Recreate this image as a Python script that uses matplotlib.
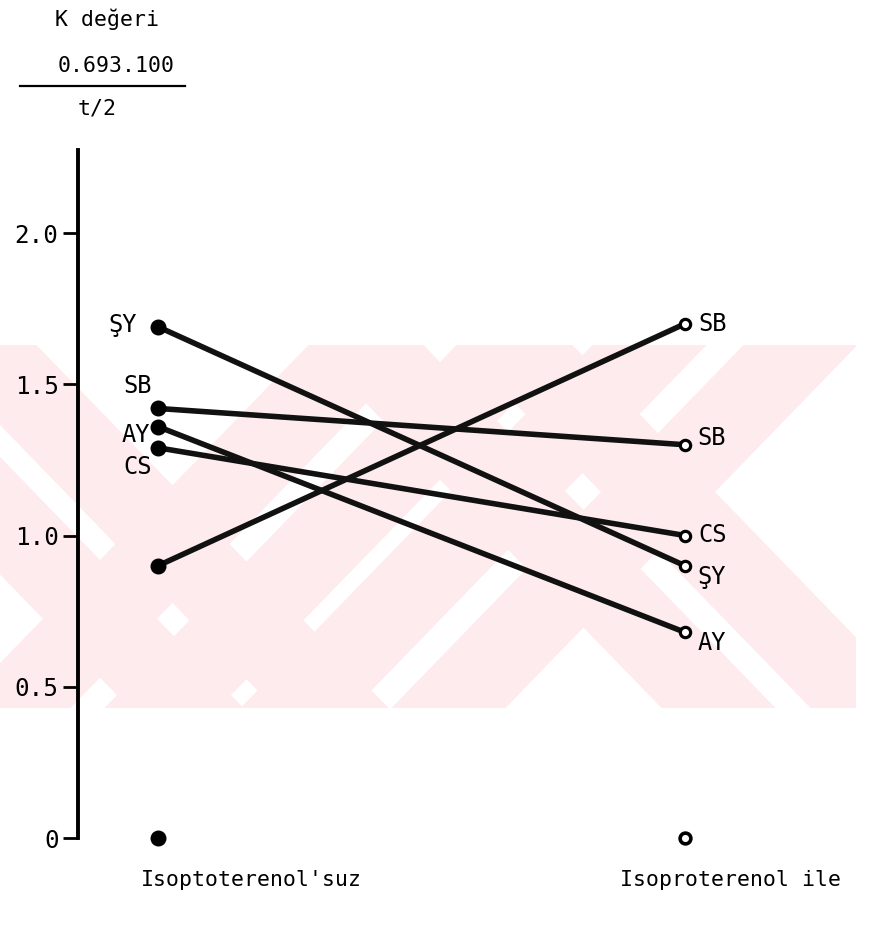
import matplotlib
matplotlib.use("Agg")
import matplotlib.pyplot as plt
from matplotlib.patches import Polygon, Rectangle

# ---------------- data ----------------
categories = ["Isoptoterenol'suz", "Isoproterenol ile"]
labels_before = ["ŞY", "SB", "AY", "CS", ""]
labels_after = ["ŞY", "SB", "AY", "CS", "SB"]
values_before = [1.69, 1.42, 1.36, 1.29, 0.90]
values_after = [0.90, 1.30, 0.68, 1.00, 1.70]
yticks = [0, 0.5, 1.0, 1.5, 2.0]
yticklabels = ["0", "0.5", "1.0", "1.5", "2.0"]
ylabel_lines = ["K değeri", "0.693.100", "t/2"]

W, H = 876, 926
plt.rcParams['font.family'] = ['DejaVu Sans Mono', 'DejaVu Sans']
fig = plt.figure(figsize=(W / 100, H / 100), dpi=100)
fig.patch.set_facecolor('white')

# ---------- background watermark (decoration, pixel coords) ----------
bg = fig.add_axes([0, 0, 1, 1], zorder=-5)
bg.set_xlim(0, W)
bg.set_ylim(H, 0)
bg.axis('off')
pink = '#fdebee'
top, bot, ymid, slope, half = 345, 708, 526, 0.97, 57
clip = Rectangle((0, top), 856, bot - top, transform=bg.transData)
for c in [190, 338, 474, 625]:          # "/" bands
    pts = [(c - slope * (y - ymid) + s * half, y) for y, s in
           [(top - 50, -1), (top - 50, 1), (bot + 50, 1), (bot + 50, -1)]]
    p = Polygon(pts, closed=True, facecolor=pink, edgecolor='none')
    bg.add_patch(p)
    p.set_clip_path(clip)
for c in [10, 155, 542, 691]:            # "\" bands
    pts = [(c + slope * (y - ymid) + s * half, y) for y, s in
           [(top - 50, -1), (top - 50, 1), (bot + 50, 1), (bot + 50, -1)]]
    p = Polygon(pts, closed=True, facecolor=pink, edgecolor='none')
    bg.add_patch(p)
    p.set_clip_path(clip)

# ---------------- main axes ----------------
ax_left, ax_right = 78, 870
y0_px, ytop_px = 838, 150
px_per_unit = 302.5
x_left_px, x_right_px = 158, 685
xscale = x_right_px - x_left_px
ax = fig.add_axes([ax_left / W, 1 - y0_px / H,
                   (ax_right - ax_left) / W, (y0_px - ytop_px) / H])
ax.set_facecolor('none')
ax.set_xlim((ax_left - x_left_px) / xscale, (ax_right - x_left_px) / xscale)
ax.set_ylim(0, (y0_px - ytop_px) / px_per_unit)

for s in ['top', 'right', 'bottom']:
    ax.spines[s].set_visible(False)
ax.spines['left'].set_linewidth(2.8)
ax.spines['left'].set_color('black')
ax.set_xticks([])
ax.set_yticks(yticks)
ax.set_yticklabels(yticklabels, fontsize=17.5)
ax.tick_params(axis='y', direction='out', length=11, width=2.0, pad=3,
               color='black', labelcolor='black')

xs = [0, 1]
for vb, va in zip(values_before, values_after):
    ax.plot(xs, [vb, va], color='#111111', lw=4.0, solid_capstyle='round',
            zorder=2, clip_on=False)
ax.scatter([0] * len(values_before), values_before, s=110, color='black',
           zorder=3, clip_on=False)
ax.scatter([1] * len(values_after), values_after, s=55, facecolor='white',
           edgecolor='black', linewidth=2.3, zorder=3, clip_on=False)

# legend-like markers at the base
ax.scatter([0], [0], s=110, color='black', zorder=3, clip_on=False)
ax.scatter([1], [0], s=60, facecolor='white', edgecolor='black',
           linewidth=2.6, zorder=3, clip_on=False)

# point labels
fs = 17
left_offsets = [(-21, 2, 'right'), (-20, 22, 'center'), (-8, -8, 'right'),
                (-20, -19, 'center'), (0, 0, 'center')]
for lab, v, (dx, dy, ha) in zip(labels_before, values_before, left_offsets):
    if lab:
        ax.annotate(lab, (0, v), xytext=(dx, dy), textcoords='offset pixels',
                    ha=ha, va='center', fontsize=fs)
right_offsets = [(12, -11), (12, 7), (13, -11), (13, 0), (13, 0)]
for lab, v, (dx, dy) in zip(labels_after, values_after, right_offsets):
    ax.annotate(lab, (1, v), xytext=(dx, dy), textcoords='offset pixels',
                ha='left', va='center', fontsize=fs)

# category labels
fig.text(251 / W, 1 - 880 / H, categories[0], ha='center', va='center',
         fontsize=15.5)
fig.text(730 / W, 1 - 880 / H, categories[1], ha='center', va='center',
         fontsize=15.5)

# y-axis title (fraction)
fig.text(107 / W, 1 - 19 / H, ylabel_lines[0], ha='center', va='center',
         fontsize=15.5)
fig.text(116 / W, 1 - 66 / H, ylabel_lines[1], ha='center', va='center',
         fontsize=15.5)
fig.text(97 / W, 1 - 108 / H, ylabel_lines[2], ha='center', va='center',
         fontsize=15.5)
fig.add_artist(plt.Line2D([20 / W, 185 / W], [1 - 86 / H, 1 - 86 / H],
                          color='black', lw=1.6, transform=fig.transFigure))

fig.savefig('out.png', dpi=100, facecolor='white')
